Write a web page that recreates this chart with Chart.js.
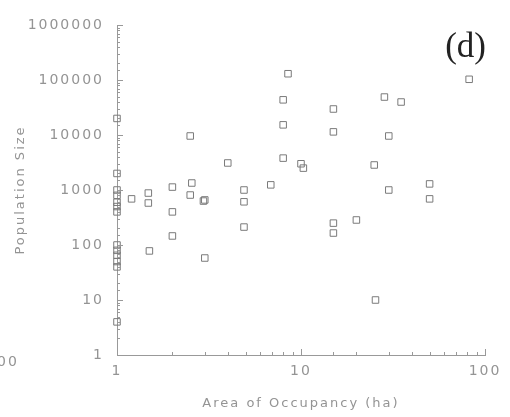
<!DOCTYPE html>
<html>
<head>
<meta charset="utf-8">
<script src="https://cdn.jsdelivr.net/npm/chart.js@4/dist/chart.umd.min.js"></script>
<style>
  html, body { margin: 0; padding: 0; background: #fff; }
  #wrap { width: 510px; height: 417px; }
</style>
</head>
<body>
<div id="wrap"><canvas id="scatterChart"></canvas></div>
<script>
// area of occupancy (ha) and population size
const areaHa = [
   1, 1, 1, 1, 1, 1, 1, 1, 1, 1, 1, 1, 1,
   1.2, 1.48, 1.48, 1.5,
   2.0, 2.0, 2.0, 2.55, 2.5, 2.5,
   2.95, 3.0, 3.0, 4.0,
   4.9, 4.9, 4.9, 6.85,
   8.5, 8.0, 8.0, 8.0, 10, 10.3,
   15, 15, 15, 15, 20,
   25, 25.4, 28.4, 35, 30, 30,
   50, 50, 82
];
const popSize = [
   20000, 2000, 1000, 800, 600, 500, 400, 100, 80, 65, 50, 40, 4,
   690, 880, 580, 78,
   1130, 400, 146, 1340, 810, 9600,
   630, 660, 58, 3100,
   1000, 610, 212, 1240,
   130000, 43600, 15300, 3800, 3000, 2500,
   29700, 11400, 250, 165, 285,
   2850, 10, 49000, 39800, 9600, 1000,
   1290, 690, 103000
];
const xTickLabels = [1, 10, 100];
const yTickLabels = [1, 10, 100, 1000, 10000, 100000, 1000000];

const points = areaHa.map((a, i) => ({ x: a, y: popSize[i] }));

const grey = '#949494';
const tickFont = { family: 'DejaVu Sans', size: 14 };
const titleFont = { family: 'DejaVu Sans', size: 13 };
const spacing = '2px';

// wide old plotter lettering
const spaced = {
   id: 'spaced',
   beforeLayout(chart) { chart.ctx.letterSpacing = spacing; },
   beforeDraw(chart) { chart.ctx.letterSpacing = spacing; }
};

// inward log ticks, drawn from the scales' own tick list
const innerTicks = {
   id: 'innerTicks',
   afterDraw(chart) {
      const c = chart.ctx;
      const area = chart.chartArea;
      c.save();
      c.strokeStyle = '#999';
      c.lineWidth = 1;
      chart.scales.x.ticks.forEach(t => {
         const px = Math.round(chart.scales.x.getPixelForValue(t.value)) + 0.5;
         const len = xTickLabels.includes(t.value) ? 6 : 3;
         c.beginPath();
         c.moveTo(px, area.bottom);
         c.lineTo(px, area.bottom - len);
         c.stroke();
      });
      chart.scales.y.ticks.forEach(t => {
         const py = Math.round(chart.scales.y.getPixelForValue(t.value)) + 0.5;
         const len = yTickLabels.includes(t.value) ? 6 : 3;
         c.beginPath();
         c.moveTo(area.left, py);
         c.lineTo(area.left + len, py);
         c.stroke();
      });
      // panel letter and the cut-off label of the neighbouring panel
      c.letterSpacing = '0px';
      c.fillStyle = '#222';
      c.font = '35px "Liberation Serif"';
      c.textAlign = 'right';
      c.textBaseline = 'alphabetic';
      c.fillText('(d)', 486, 57);
      c.letterSpacing = spacing;
      c.fillStyle = grey;
      c.font = '14px "DejaVu Sans"';
      c.textAlign = 'left';
      c.textBaseline = 'middle';
      c.fillText('00', -3, 362);
      c.restore();
   }
};

const ctx = document.getElementById('scatterChart').getContext('2d');
const scatterChart = new Chart(ctx, {
   type: 'scatter',
   data: {
      datasets: [{
         label: 'Populations',
         data: points,
         pointStyle: 'rect',
         pointRadius: 4.6,
         pointHoverRadius: 4.6,
         pointBorderWidth: 1,
         borderColor: '#7a7a7a',
         backgroundColor: 'rgba(0,0,0,0)',
         clip: false
      }]
   },
   options: {
      responsive: true,
      maintainAspectRatio: false,
      animation: false,
      layout: { padding: { top: 25, right: 25, left: 0, bottom: 0 } },
      plugins: {
         legend: { display: false },
         tooltip: { enabled: false }
      },
      scales: {
         x: {
            type: 'logarithmic',
            min: 1,
            max: 100,
            grid: { display: false, drawTicks: false },
            border: { display: true, color: '#999', width: 1 },
            ticks: {
               autoSkip: false,
               maxRotation: 0,
               color: grey,
               font: tickFont,
               padding: 8,
               callback: v => xTickLabels.includes(v) ? String(v) : ''
            },
            title: {
               display: true,
               text: 'Area of Occupancy (ha)',
               color: grey,
               font: titleFont,
               padding: { top: 0, bottom: 6 }
            },
            afterFit: s => { s.height = 62; }
         },
         y: {
            type: 'logarithmic',
            min: 1,
            max: 1000000,
            grid: { display: false, drawTicks: false },
            border: { display: true, color: '#999', width: 1 },
            ticks: {
               autoSkip: false,
               color: grey,
               font: tickFont,
               padding: 13,
               callback: v => yTickLabels.includes(v) ? String(v) : ''
            },
            title: {
               display: true,
               text: 'Population Size',
               color: grey,
               font: titleFont,
               padding: { top: 13, bottom: 0 }
            },
            afterFit: s => { s.width = 117; }
         }
      }
   },
   plugins: [spaced, innerTicks]
});
</script>
</body>
</html>
